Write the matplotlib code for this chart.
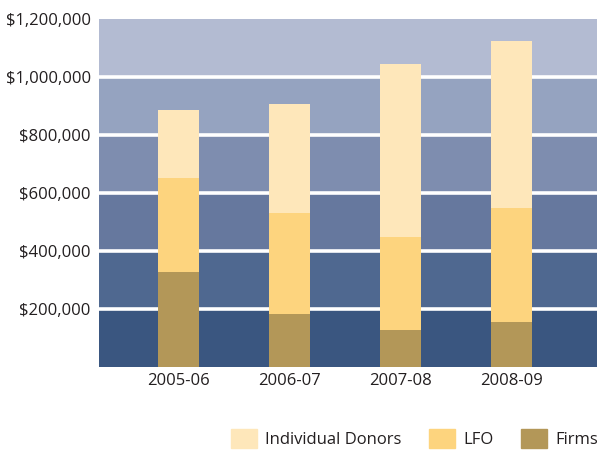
import matplotlib
matplotlib.use("Agg")
import matplotlib.pyplot as plt
from matplotlib.patches import Patch
import numpy as np

plt.rcParams['font.family'] = ['Open Sans', 'DejaVu Sans']

years = ["2005-06", "2006-07", "2007-08", "2008-09"]
firms = [328000, 183000, 128000, 155000]
lfo = [324000, 348000, 320000, 393000]
individual = [234000, 376000, 597000, 576000]

band_edges = [0, 200000, 400000, 600000, 800000, 1000000, 1200000]
band_colors = ["#3A5680", "#4F6890", "#66789E", "#7E8DAF", "#95A3C0", "#B3BBD2"]
yticks = [200000, 400000, 600000, 800000, 1000000, 1200000]
ytick_labels = ["$200,000", "$400,000", "$600,000", "$800,000", "$1,000,000", "$1,200,000"]

c_firms = "#B39758"
c_lfo = "#FDD47E"
c_ind = "#FEE7BA"

fig = plt.figure(figsize=(5.98, 4.5), dpi=100)
ax = fig.add_axes([99/598, 1 - 367/450, (597-99)/598, (367-19)/450])

for i in range(len(band_colors)):
    ax.axhspan(band_edges[i], band_edges[i+1], color=band_colors[i], lw=0, zorder=0)
for yv in band_edges[1:-1]:
    ax.axhline(yv, color="white", lw=2.6, zorder=1)

x = np.arange(len(years))
w = 0.37
ax.bar(x, firms, w, color=c_firms, zorder=2, lw=0)
ax.bar(x, lfo, w, bottom=firms, color=c_lfo, zorder=2, lw=0)
bottom2 = np.array(firms) + np.array(lfo)
ax.bar(x, individual, w, bottom=bottom2, color=c_ind, zorder=2, lw=0)

ax.set_xlim(-0.716, 3.77)
ax.set_ylim(0, 1200000)
ax.set_yticks(yticks)
ax.set_yticklabels(ytick_labels, fontsize=12, color="#231F20")
ax.set_xticks(x)
ax.set_xticklabels(years, fontsize=12, color="#231F20")
ax.tick_params(axis='x', length=0, pad=4)
ax.tick_params(axis='y', length=0, pad=6)
for s in ax.spines.values():
    s.set_visible(False)

handles = [Patch(color=c_ind, label="Individual Donors"),
           Patch(color=c_lfo, label="LFO"),
           Patch(color=c_firms, label="Firms")]
fig.legend(handles=handles, loc="lower right", bbox_to_anchor=(1.019, -0.022), ncol=3,
           frameon=False, fontsize=12, handlelength=1.55, handleheight=1.35,
           columnspacing=1.65, handletextpad=0.5, labelcolor="#231F20",
           borderaxespad=0.3)

fig.savefig("out.png", dpi=100)
